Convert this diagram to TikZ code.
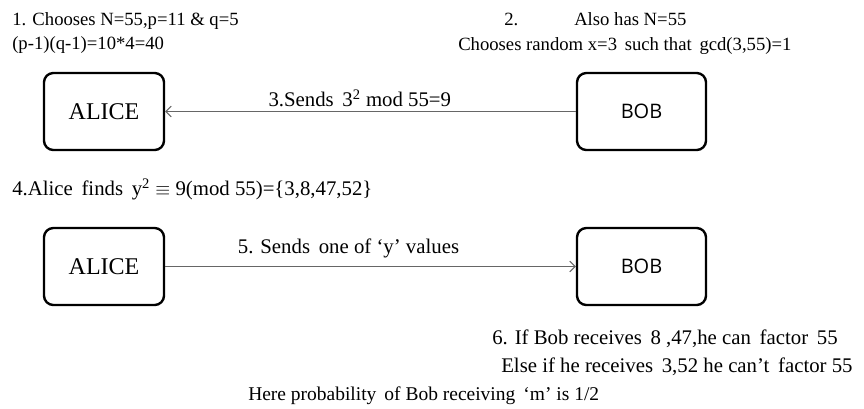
\documentclass[tikz,border=0pt]{standalone}
\usepackage{fontspec}
\setmainfont{Liberation Serif}
\newfontfamily\boxsans{Open Sans}
\usetikzlibrary{arrows.meta}
\tikzset{
  party/.style={draw=black, line width=1.8pt, rounded corners=7pt,
    minimum height=57.75pt, fill=white},
  msg/.style={draw=black!60, line width=0.8pt,
    -{Straight Barb[length=4pt,width=8pt]}},
  note/.style={anchor=base west, inner sep=0pt,
    font=\fontsize{14}{16}\selectfont},
  bignote/.style={note, font=\fontsize{15.6}{18}\selectfont},
}

\begin{document}
\begin{tikzpicture}[x=0.75pt,y=-0.75pt]
    \useasboundingbox (0,0) rectangle (864,408);
    % parties
    \node[party, minimum width=90pt, font=\fontsize{18}{20}\selectfont] (alice1) at (104,111.5) {ALICE};
    \node[party, minimum width=96.75pt, font=\boxsans\fontsize{15}{17}\selectfont] (bob1) at (641.5,111.5) {BOB};
    \node[party, minimum width=90pt, font=\fontsize{18}{20}\selectfont] (alice2) at (104,266.5) {ALICE};
    \node[party, minimum width=96.75pt, font=\boxsans\fontsize{15}{17}\selectfont] (bob2) at (641.5,266.5) {BOB};
    % step texts
    \node[note] (s1a) at (12,25) {1. Chooses N=55,p=11 \& q=5};
    \node[note] (s1b) at (12,49) {(p-1)(q-1)=10*4=40};
    \node[note] (s2a) at (504,25) {2.};
    \node[note] (s2b) at (574,25) {Also has N=55};
    \node[note] (s2c) at (458,50) {Chooses random x=3\, such that\, gcd(3,55)=1};
    \node[bignote] (s4) at (12,195) {4.Alice\, finds\, y\textsuperscript{2} $\equiv$ 9(mod 55)=\{3,8,47,52\}};
    \node[bignote] (s6a) at (492,344) {6. If Bob receives\, 8 ,47,he can\, factor\, 55};
    \node[bignote] (s6b) at (501,372) {Else if he receives\, 3,52 he can’t\, factor 55};
    \node[note, font=\fontsize{14.6}{17}\selectfont] (s6c) at (248,400) {Here probability\, of Bob receiving\, ‘m’ is 1/2};
    % messages
    \draw[msg] (bob1) -- node[bignote, anchor=base, yshift=4pt, xshift=-8pt] (m3) {3.Sends\, 3\textsuperscript{2} mod 55=9} (alice1);
    \draw[msg] (alice2) -- node[bignote, anchor=base, yshift=10pt, xshift=-16.5pt] (m5) {5. Sends\, one of ‘y’ values} (bob2);
\end{tikzpicture}
\end{document}
